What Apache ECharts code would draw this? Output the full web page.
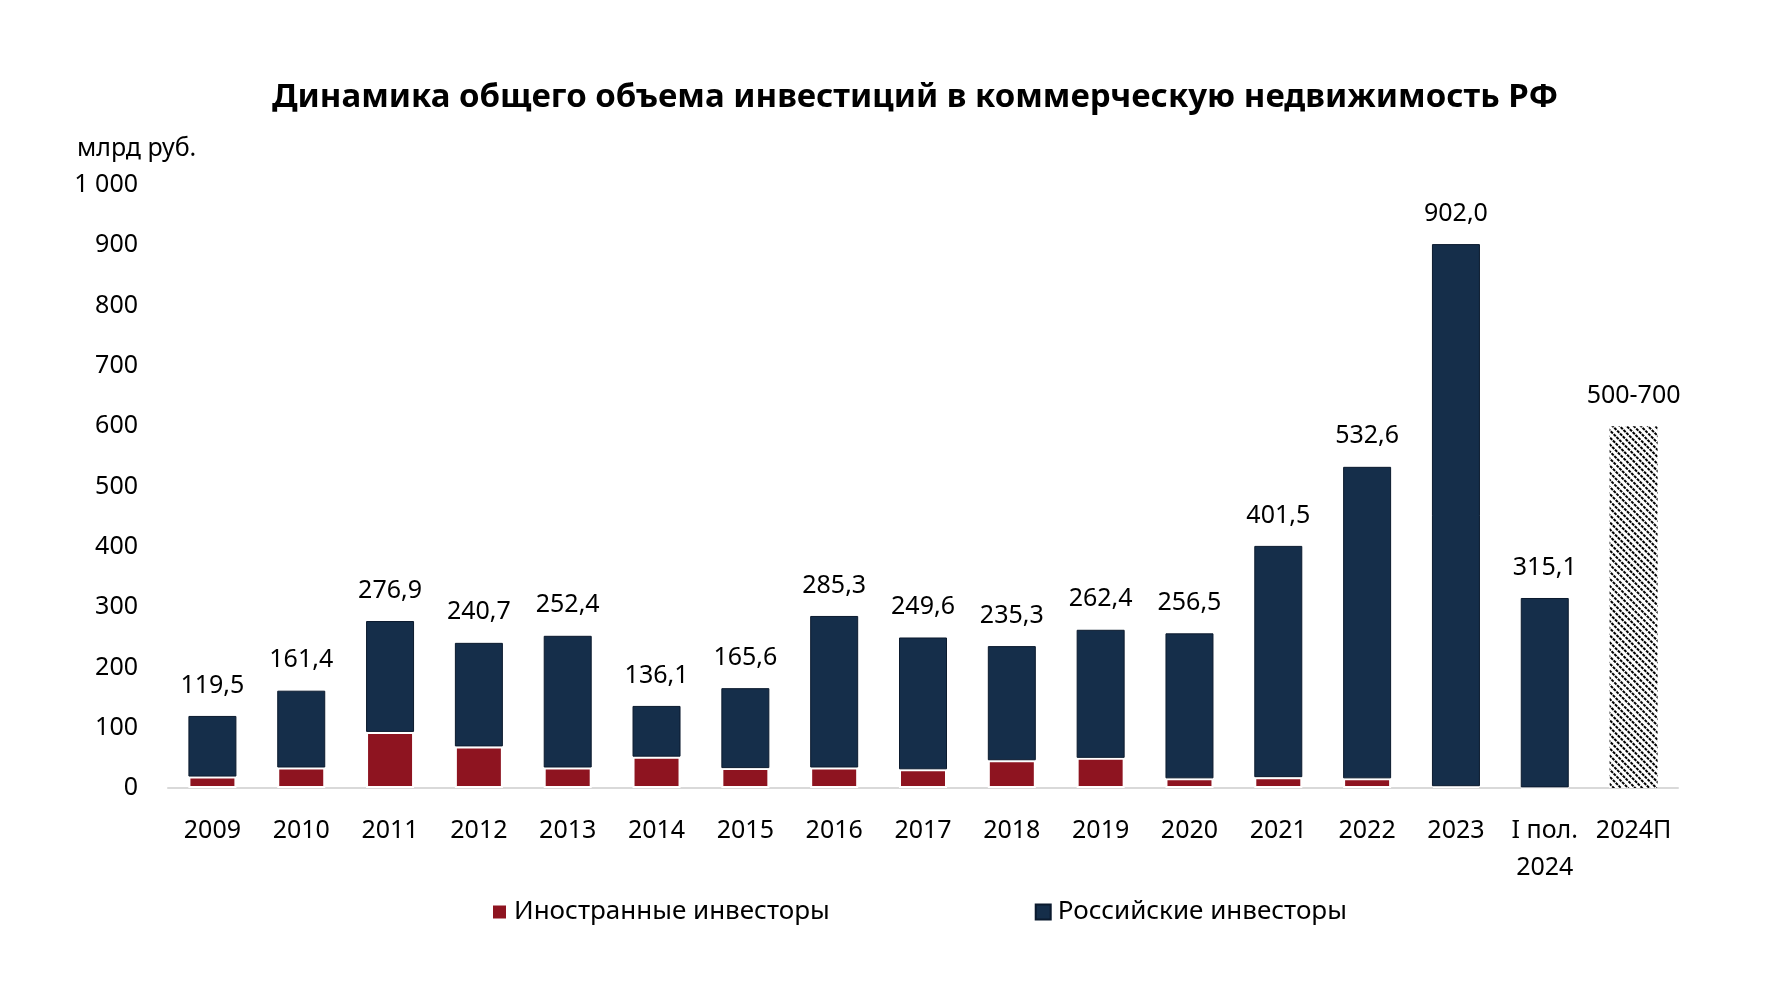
<!DOCTYPE html>
<html>
<head>
<meta charset="utf-8">
<script src="https://cdn.jsdelivr.net/npm/echarts@6/dist/echarts.min.js"></script>
<style>
html,body{margin:0;padding:0;background:#fff;}
#chart{width:1780px;height:992px;}
</style>
</head>
<body>
<div id="chart"></div>
<script>
const categories = ['2009','2010','2011','2012','2013','2014','2015','2016','2017','2018','2019','2020','2021','2022','2023','I пол.\n2024','2024П'];
const foreignInvestors = [19, 34, 93, 69, 34, 52, 33, 34, 31, 46, 50, 16, 18, 16, 3, 1, '-'];
const russianInvestors = [100.5, 127.4, 183.9, 171.7, 218.4, 84.1, 132.6, 251.3, 218.6, 189.3, 212.4, 240.5, 383.5, 516.6, 899.0, 314.1, '-'];
const forecast = ['-','-','-','-','-','-','-','-','-','-','-','-','-','-','-','-', 600];
const totalLabels = ['119,5','161,4','276,9','240,7','252,4','136,1','165,6','285,3','249,6','235,3','262,4','256,5','401,5','532,6','902,0','315,1','500-700'];
const yTickLabels = {0:'0',100:'100',200:'200',300:'300',400:'400',500:'500',600:'600',700:'700',800:'800',900:'900',1000:'1 000'};

const FONT = '"Noto Sans", "Open Sans", sans-serif';
const chart = echarts.init(document.getElementById('chart'), null, {renderer:'canvas'});
const labelStyle = {
  show: true, position: 'top', distance: 18,
  fontFamily: FONT, fontSize: 25, color: '#000',
  formatter: p => totalLabels[p.dataIndex]
};
chart.setOption({
  animation: false,
  backgroundColor: '#fff',
  title: {
    text: 'Динамика общего объема инвестиций в коммерческую недвижимость РФ',
    left: 267, top: 76,
    textStyle: {fontFamily: FONT, fontSize: 33, fontWeight: 'bold', color: '#000'}
  },
  graphic: [{
    type: 'text', left: 77, top: 136,
    style: {text: 'млрд руб.', font: '25px ' + FONT, fill: '#000'}
  }],
  legend: {
    data: ['Иностранные инвесторы', 'Российские инвесторы'],
    left: 486, top: 894,
    icon: 'rect', itemWidth: 15, itemHeight: 15, itemGap: 205,
    textStyle: {fontFamily: FONT, fontSize: 26, color: '#000', padding: [0,0,0,2]}
  },
  grid: {left: 168, right: 102, top: 185, bottom: 204, containLabel: false},
  xAxis: {
    type: 'category', data: categories,
    axisLine: {lineStyle: {color: '#d9d9d9', width: 2}},
    axisTick: {show: false},
    axisLabel: {fontFamily: FONT, fontSize: 25, color: '#000', margin: 24, lineHeight: 37, interval: 0}
  },
  yAxis: {
    type: 'value', min: 0, max: 1000, interval: 100,
    splitLine: {show: false}, axisLine: {show: false}, axisTick: {show: false},
    axisLabel: {fontFamily: FONT, fontSize: 25, color: '#000', margin: 30,
      formatter: v => yTickLabels[v] !== undefined ? yTickLabels[v] : String(v)}
  },
  series: [
    {
      name: 'Иностранные инвесторы', type: 'bar', stack: 'total', barWidth: 48,
      data: foreignInvestors,
      itemStyle: {color: '#8e1420', borderColor: '#ffffff', borderWidth: 2}
    },
    {
      name: 'Российские инвесторы', type: 'bar', stack: 'total', barWidth: 48,
      data: russianInvestors,
      itemStyle: {color: '#152e4a', borderColor: '#0b1a2e', borderWidth: 1},
      label: labelStyle
    },
    {
      name: 'Прогноз', type: 'bar', stack: 'total', barWidth: 48,
      data: forecast,
      itemStyle: {
        color: '#ffffff',
        decal: {symbol: 'rect', symbolSize: 1, color: '#000000', backgroundColor: '#ffffff',
          dashArrayX: [3, 1], dashArrayY: [1.2, 3], rotation: Math.PI / 4}
      },
      label: labelStyle
    }
  ]
});
</script>
</body>
</html>
